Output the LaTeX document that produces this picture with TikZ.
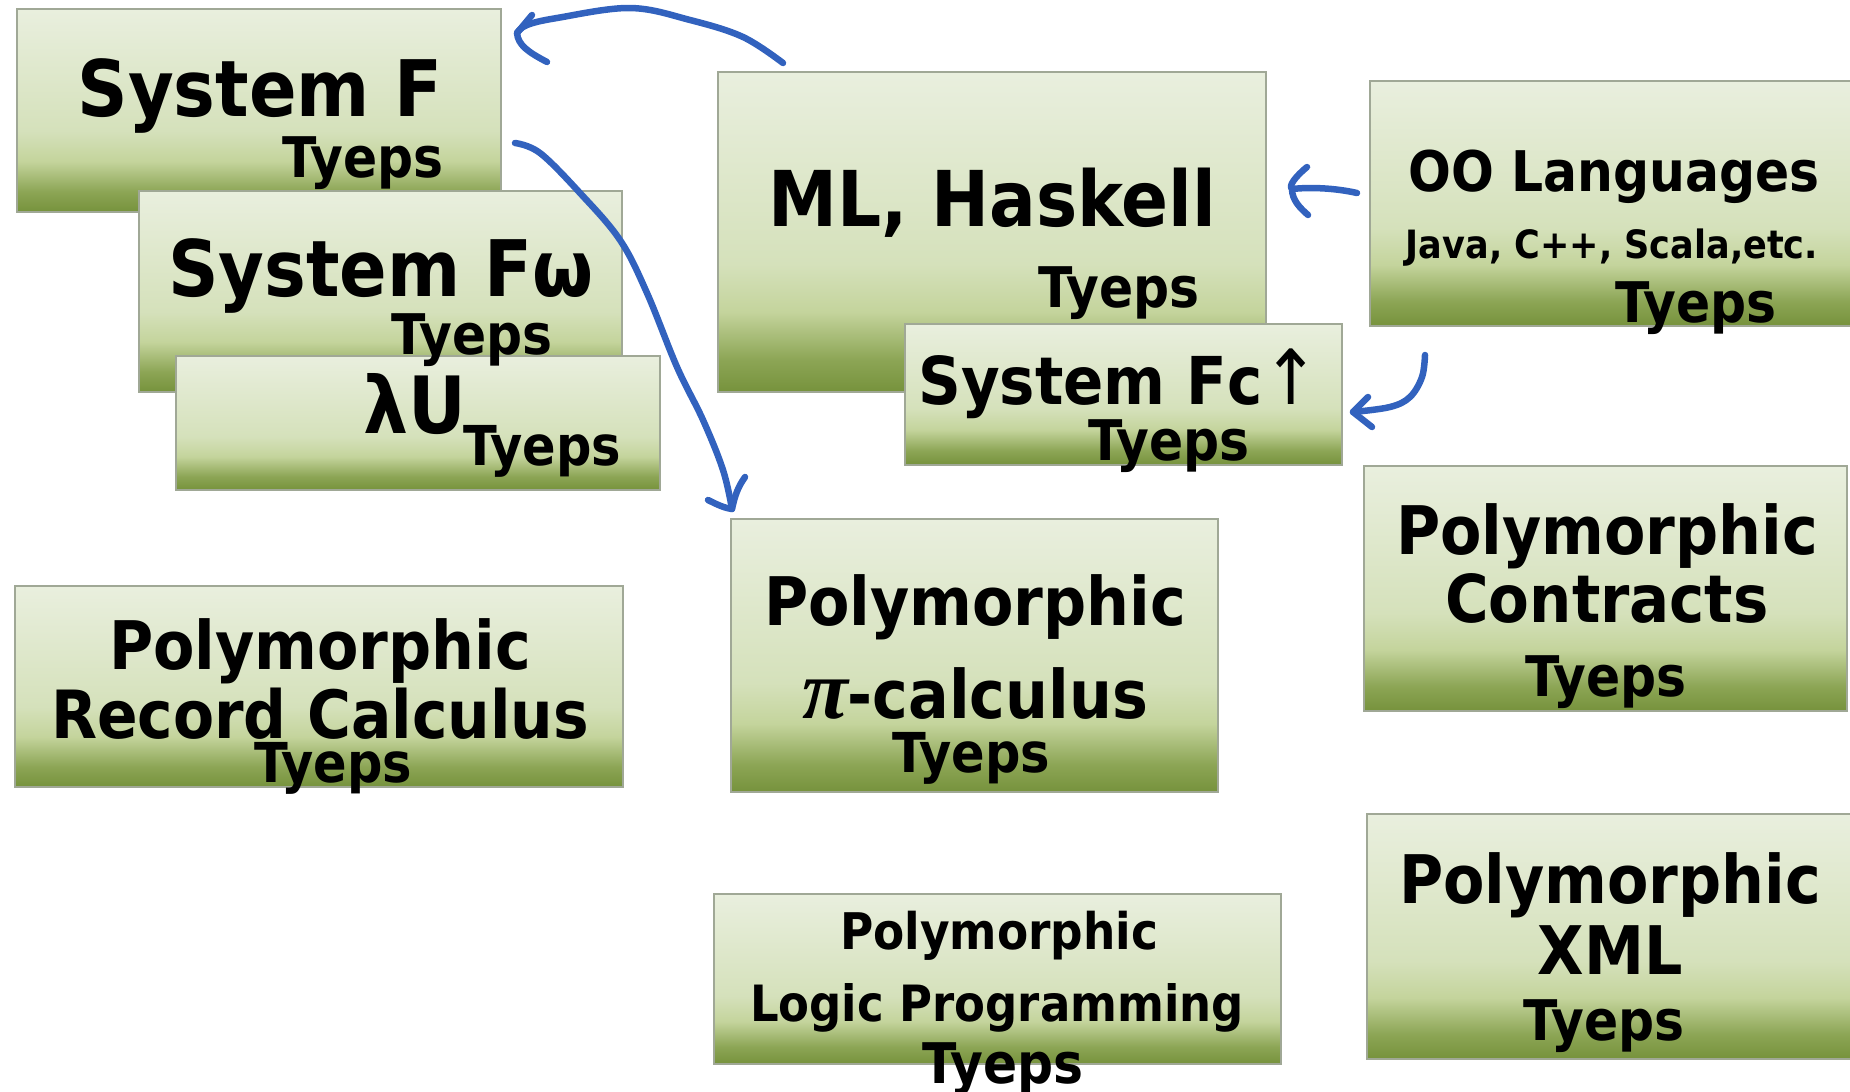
\documentclass[tikz,border=0pt]{standalone}
\usepackage{fontspec}
\setmainfont{DejaVu Sans Condensed}
\newfontfamily\pifont{Liberation Serif}
\newcommand\tsz[1]{\fontsize{#1}{#1}\selectfont\bfseries}
\definecolor{gA}{RGB}{118,146,60}
\definecolor{gB}{RGB}{140,165,85}
\definecolor{gC}{RGB}{196,212,156}
\definecolor{gD}{RGB}{213,225,187}
\definecolor{gE}{RGB}{233,239,222}
\definecolor{boxline}{RGB}{160,168,150}
\definecolor{pen}{RGB}{50,98,190}
\pgfdeclareverticalshading{boxgrad}{100bp}{color(0bp)=(gA); color(25bp)=(gA); color(30bp)=(gB); color(37.5bp)=(gC); color(45bp)=(gD); color(75bp)=(gE); color(100bp)=(gE)}
\begin{document}
\begin{tikzpicture}[x=1pt,y=-1pt,
  tbox/.style={draw=boxline,line width=1.5pt,shading=boxgrad,rectangle,inner sep=0pt,outer sep=0pt,anchor=north west},
  lbl/.style={anchor=base,inner sep=0pt,text=black},
  penline/.style={draw=pen,line width=6.5pt,line cap=round,line join=round}]
\useasboundingbox (0,0) rectangle (1850,1092);
% boxes
\node[tbox,minimum width=484pt,minimum height=203pt] (sf) at (17,9) {};
\node[tbox,minimum width=483pt,minimum height=201pt] (sfw) at (139,191) {};
\node[tbox,minimum width=484pt,minimum height=134pt] (lu) at (176,356) {};
\node[tbox,minimum width=548pt,minimum height=320pt] (ml) at (718,72) {};
\node[tbox,minimum width=490pt,minimum height=245pt] (oo) at (1370,81) {};
\node[tbox,minimum width=437pt,minimum height=141pt] (fc) at (905,324) {};
\node[tbox,minimum width=487pt,minimum height=273pt] (pi) at (731,519) {};
\node[tbox,minimum width=608pt,minimum height=201pt] (rec) at (15,586) {};
\node[tbox,minimum width=567pt,minimum height=170pt] (lp) at (714,894) {};
\node[tbox,minimum width=483pt,minimum height=245pt] (ct) at (1364,466) {};
\node[tbox,minimum width=490pt,minimum height=245pt] (xml) at (1367,814) {};
% texts
\node[lbl,font=\tsz{78}] (sft) at (260,116) {System F};
\node[lbl,font=\tsz{56}] (sfty) at (363,177) {Tyeps};
\node[lbl,font=\tsz{78}] (sfwt) at (381,296) {System Fω};
\node[lbl,font=\tsz{56}] (sfwty) at (472,354) {Tyeps};
\node[lbl,font=\tsz{79}] (lut) at (415,433) {λU};
\node[lbl,font=\tsz{55}] (luty) at (542,465) {Tyeps};
\node[lbl,font=\tsz{77}] (mlt) at (992,226) {ML, Haskell};
\node[lbl,font=\tsz{56}] (mlty) at (1119,307) {Tyeps};
\node[lbl,font=\tsz{56}] (oot) at (1614,191) {OO Languages};
\node[lbl,font=\tsz{39}] (ooj) at (1612,258) {Java, C++, Scala,etc.};
\node[lbl,font=\tsz{56}] (ooty) at (1696,322) {Tyeps};
\node[lbl,font=\tsz{66}] (fct) at (1119,404) {System Fc{\fontsize{76}{76}\selectfont\mdseries↑}};
\node[lbl,font=\tsz{56}] (fcty) at (1169,460) {Tyeps};
\node[lbl,font=\tsz{67}] (pit1) at (975,625) {Polymorphic};
\node[lbl,font=\tsz{67}] (pit2) at (975,718) {{\pifont\fontsize{84}{84}\selectfont\bfseries\itshape π}-calculus};
\node[lbl,font=\tsz{55}] (pity) at (971,772) {Tyeps};
\node[lbl,font=\tsz{67}] (rect1) at (320,669) {Polymorphic};
\node[lbl,font=\tsz{66.5}] (rect2) at (320,738) {Record Calculus};
\node[lbl,font=\tsz{55}] (recty) at (333,782) {Tyeps};
\node[lbl,font=\tsz{50.5}] (lpt1) at (999,949) {Polymorphic};
\node[lbl,font=\tsz{50}] (lpt2) at (997,1021) {Logic Programming};
\node[lbl,font=\tsz{56}] (lpty) at (1003,1083) {Tyeps};
\node[lbl,font=\tsz{67}] (ctt1) at (1607,554) {Polymorphic};
\node[lbl,font=\tsz{66}] (ctt2) at (1607,622) {Contracts};
\node[lbl,font=\tsz{56}] (ctty) at (1606,696) {Tyeps};
\node[lbl,font=\tsz{67}] (xmlt1) at (1610,903) {Polymorphic};
\node[lbl,font=\tsz{67}] (xmlt2) at (1610,974) {XML};
\node[lbl,font=\tsz{56}] (xmlty) at (1604,1040) {Tyeps};
% hand-drawn arrows
\coordinate (a1s) at (783,63);
\coordinate (a1t) at (517,33);
\draw[penline] plot[smooth,tension=0.6] coordinates {(a1s) (743,37) (690,20) (630,8) (557,18) (527,25) (a1t)};
\draw[penline] (532,15) -- (a1t) .. controls (518,45) and (528,52) .. (547,62);
\coordinate (a2s) at (515,143);
\coordinate (a2t) at (732,509);
\draw[penline] plot[smooth,tension=0.6] coordinates {(a2s) (540,153) (580,193) (620,240) (647,293) (677,367) (703,420) (723,470) (a2t)};
\draw[penline] (708,500) .. controls (716,504) and (724,508) .. (a2t) .. controls (735,495) and (738,487) .. (745,477);
\coordinate (a3s) at (1357,193);
\coordinate (a3t) at (1292,189);
\draw[penline] (a3s) .. controls (1335,188) and (1310,187) .. (a3t);
\draw[penline] (1307,167) .. controls (1296,176) and (1288,186) .. (a3t) .. controls (1292,200) and (1300,208) .. (1308,215);
\coordinate (a4s) at (1425,355);
\coordinate (a4t) at (1353,412);
\draw[penline] plot[smooth,tension=0.6] coordinates {(a4s) (1422,377) (1410,397) (1390,407) (a4t)};
\draw[penline] (1368,397) -- (a4t) -- (1372,427);
\end{tikzpicture}
\end{document}
